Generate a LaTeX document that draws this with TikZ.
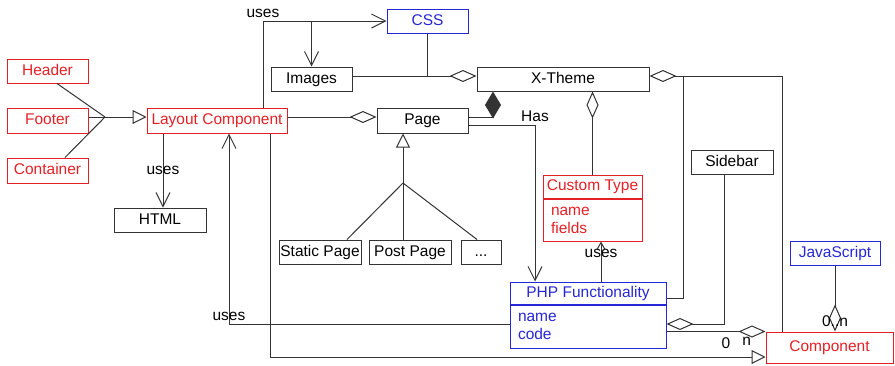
\documentclass[tikz,border=0pt]{standalone}
\usepackage{fontspec}
\setmainfont{Liberation Sans}
\usetikzlibrary{arrows.meta,calc}

\definecolor{umlred}{RGB}{228,32,38}
\definecolor{umlblue}{RGB}{38,38,214}
\newcommand{\umlfont}{\fontsize{15.5}{18}\selectfont}

\tikzset{
    frame/.style={draw=black!80, rectangle, inner sep=0pt},
    box/.style={frame, minimum height=24pt, text height=11.5pt, text depth=3.5pt},
    redbox/.style={box, draw=umlred, text=umlred},
    bluebox/.style={box, draw=umlblue, text=umlblue},
    attrs/.style={frame, anchor=north, inner xsep=8pt, align=left},
    uses/.style={-{Straight Barb[length=14pt,width=14pt]}},
    gen/.style={-{Triangle[open,length=14pt,width=14pt,fill=white]}},
    agg/.style={-{Diamond[open,length=27pt,width=12pt,fill=white]}},
    comp/.style={-{Diamond[length=27pt,width=16pt]}},
}

\begin{document}
\begin{tikzpicture}[x=1pt, y=-1pt, line width=1pt, draw=black!80, font=\umlfont]
        \useasboundingbox (0,0) rectangle (895,365);

        % Nodes
        \node (hdr) [redbox, minimum width=81pt] at (47.5,71) {Header};
        \node (ftr) [redbox, minimum width=81pt, minimum height=25pt] at (47.5,120.5) {Footer};
        \node (cnt) [redbox, minimum width=81pt, minimum height=25pt] at (47.5,170.5) {Container};
        \node (lay) [redbox, minimum width=140pt, minimum height=25pt] at (217,120.5) {Layout Component};
        \node (html) [box, minimum width=92pt] at (160,220) {HTML};
        \node (css) [bluebox, minimum width=81pt] at (427.5,21) {CSS};
        \node (img) [box, minimum width=81pt] at (311.5,79) {Images};
        \node (xth) [box, minimum width=172pt] at (563,79) {X-Theme};
        \node (page) [box, minimum width=91pt, minimum height=25pt] at (422.5,120.5) {Page};
        \node (stat) [box, minimum width=82pt] at (320,252) {Static Page};
        \node (post) [box, minimum width=82pt] at (410,252) {Post Page};
        \node (dots) [box, minimum width=40pt] at (481,252) {...};
        \node (side) [box, minimum width=82pt] at (732,162) {Sidebar};
        \node (ctype) [redbox, minimum width=99pt, minimum height=23pt] at (592.5,186.5) {Custom Type};
        \node (ctypeattr) [attrs, draw=umlred, text=umlred, minimum height=42pt, text width=83pt]
            at (ctype.south) {name\\fields};
        \node (php) [bluebox, minimum width=156pt, minimum height=22pt] at (588,293) {PHP Functionality};
        \node (phpattr) [attrs, draw=umlblue, text=umlblue, minimum height=43pt, text width=140pt]
            at (php.south) {name\\code};
        \node (js) [bluebox, minimum width=90pt] at (835,253) {JavaScript};
        \node (comp) [redbox, minimum width=127pt, minimum height=31pt] at (829.5,347.5) {Component};

        % Edges
        \coordinate (fan) at (105,117);
        \draw ([xshift=9.5pt]hdr.south) -- (fan);
        \draw (ftr.east |- fan) -- (fan);
        \draw ([xshift=17.5pt]cnt.north) -- (fan);
        \draw[gen] (fan) -- (lay.west |- fan);

        \draw[uses] ([xshift=46pt]lay.north) |- node (usestop) [pos=0.5, above] {uses} (css.west);
        \draw[uses] (img.north |- css.west) -- (img.north);
        \draw[uses] ([xshift=-54pt]lay.south) -- node (useshtml) {uses} ([xshift=-54pt]lay.south |- html.north);

        \draw[agg] ([yshift=3pt]img.east) -- ([yshift=3pt]xth.west);
        \draw (css.south) -- ([yshift=3pt]css.south |- img.east);
        \draw[agg] ([yshift=3.5pt]lay.east) -- ([yshift=3.5pt]page.west);
        \draw[comp] ([yshift=3.5pt]page.east) -| ([xshift=-70pt]xth.south);
        \draw[uses] ([yshift=-4.5pt]page.east) -| node (has) [pos=0.5, above] {Has} ([xshift=-53pt]php.north);

        \coordinate (pj) at (403,183);
        \draw[gen] (pj) -- (pj |- page.south);
        \draw ([xshift=27pt]stat.north) -- (pj);
        \draw (pj |- post.north) -- (pj);
        \draw ([xshift=-4pt]dots.north) -- (pj);

        \draw[agg] (ctype.north) -- (ctype.north |- xth.south);
        \draw[-{Straight Barb[length=7pt,width=8pt]}] ([xshift=13pt]php.north)
            -- node (usesct) [pos=0.7] {uses} ([xshift=13pt]php.north |- ctypeattr.south);

        \draw[agg] ([xshift=-8pt]side.south) |- ([yshift=2.5pt]phpattr.east);
        \draw[agg] ([xshift=-47.5pt]comp.north) |- ([yshift=3pt]xth.east);
        \draw ([yshift=-5pt]php.east) -| ([xshift=34pt,yshift=3pt]xth.east);
        \draw[agg] (phpattr.east |- comp.north west) -- node (mult0) [pos=0.6, below=2pt] {0}
            node (multn) [pos=0.81, below=2pt] {n} (comp.north west);
        \draw[agg] (js.south) -- node (multjs) [pos=0.85] {0..n} (js.south |- comp.north);

        \draw[gen] ([xshift=53pt]lay.south) |- ([yshift=-9.5pt]comp.west);
        \draw[uses] ([yshift=2.5pt]phpattr.west) -| node (useslay) [pos=0.5, above] {uses} ([xshift=12pt]lay.south);
    \end{tikzpicture}
\end{document}
